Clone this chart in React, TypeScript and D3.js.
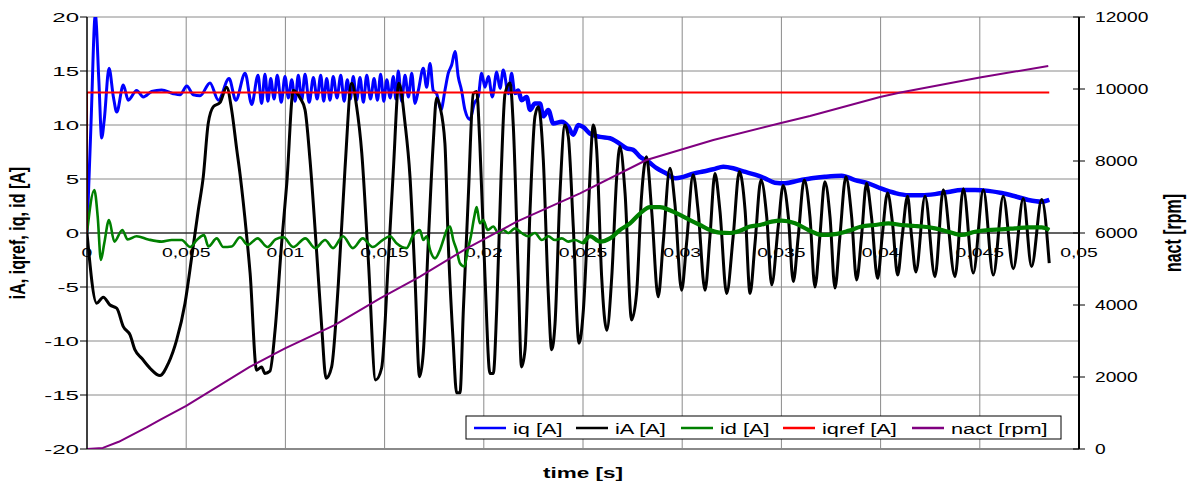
import React from 'react';
import * as d3 from 'd3';

// time in ms, currents in A, speed in rpm
const iqData: [number, number][] = [
  [0, 0], [0.2, 10], [0.42, 20.2], [0.6, 14], [0.74, 8.8], [0.87, 10.5], [1.11, 15.25], [1.33, 12.6], [1.5, 11.2],
  [1.83, 13.7], [2.08, 12.3], [2.5, 13.2], [2.84, 12.6], [3.26, 13.1], [3.76, 13.25], [4.35, 12.9], [4.69, 12.8],
  [5.03, 13.6], [5.36, 12.8], [5.7, 12.7], [6.2, 13.9], [6.62, 12.3], [7.16, 14.3], [7.5, 12.3], [7.97, 14.8], [8.3, 11.9],
  [8.62, 14.6], [8.8, 12.0], [8.97, 14.7], [9.12, 12.2], [9.26, 14.3], [9.43, 12.4], [9.59, 14.6], [9.79, 12.1],
  [9.98, 14.5], [10.15, 12.5], [10.32, 14.2], [10.49, 12.2], [10.65, 14.6], [10.82, 12.3], [10.99, 14.7], [11.2, 12.1],
  [11.41, 14.4], [11.6, 12.4], [11.78, 14.6], [11.93, 12.2], [12.08, 14.3], [12.25, 12.3], [12.41, 14.5], [12.6, 12.5],
  [12.79, 14.6], [12.96, 12.2], [13.12, 14.2], [13.27, 12.4], [13.42, 14.5], [13.59, 12.3], [13.76, 14.4], [13.93, 12.1],
  [14.1, 14.6], [14.29, 12.4], [14.47, 14.3], [14.64, 12.3], [14.8, 14.7], [14.96, 12.2], [15.11, 14.2], [15.28, 12.5],
  [15.44, 14.5], [15.57, 12.4], [15.69, 15.0], [15.86, 12.2], [16.03, 14.6], [16.2, 12.6], [16.37, 14.8], [16.53, 12.0],
  [16.7, 13.2], [16.95, 15.25], [17.12, 13.5], [17.29, 15.7], [17.45, 13.2], [17.62, 12.9], [17.84, 11.4], [18.04, 13.2],
  [18.21, 14.8], [18.38, 15.55], [18.55, 16.8], [18.71, 14.5], [18.88, 13.2], [19.05, 11.4], [19.3, 10.5], [19.52, 12],
  [19.72, 12.6], [19.89, 14.8], [20.06, 13.5], [20.23, 14.5], [20.43, 12.6], [20.65, 14.9], [20.82, 13.4], [20.98, 15.1],
  [21.24, 12.9], [21.4, 14.8], [21.57, 12.9], [21.74, 13.2], [21.9, 12.3], [22.16, 12.6], [22.33, 11.4], [22.58, 12],
  [22.83, 12], [23.0, 10.8], [23.25, 11.4], [23.5, 10.15], [23.93, 10.3], [24.26, 9.85], [24.51, 9.1], [24.76, 10],
  [25.02, 9.8], [25.35, 9.2], [25.86, 8.9], [26.36, 8.77], [26.7, 8.45], [27.2, 7.84], [27.53, 7.7], [27.87, 7.06],
  [28.29, 6.6], [28.71, 6], [29.21, 5.5], [29.64, 5.06], [30.06, 5.2], [30.56, 5.5], [31.06, 5.7], [31.57, 5.9],
  [32.07, 6.14], [32.57, 6], [33.08, 5.7], [33.67, 5.4], [34.17, 5.06], [34.67, 4.66], [35.18, 4.6], [35.85, 4.85],
  [36.52, 5.06], [37.19, 5.2], [38.04, 5.3], [38.71, 4.9], [39.38, 4.6], [40.05, 4.1], [40.73, 3.7], [41.4, 3.5],
  [42.07, 3.5], [42.74, 3.6], [43.41, 3.8], [44.08, 3.98], [44.76, 3.98], [45.43, 3.9], [46.1, 3.7], [46.77, 3.4],
  [47.45, 3.06], [48.12, 2.9], [48.5, 3.06],
];

const iaData: [number, number][] = [
  [0, 0], [0.49, -6.5], [0.82, -5.95], [1.16, -6.67], [1.5, -6.97], [1.83, -8.67], [2.17, -9.44], [2.42, -10.83],
  [2.76, -11.6], [3.18, -12.53], [3.68, -13.2], [4.1, -12.07], [4.52, -9.9], [4.94, -6.5], [5.28, -2.2], [5.61, 2.13],
  [5.86, 5.2], [6.11, 10.15], [6.37, 11.7], [6.7, 12.07], [7.04, 13.5], [7.29, 11.4], [7.55, 7.7], [7.71, 5.5],
  [8.05, -0.3], [8.22, -3.7], [8.55, -12.7], [8.8, -12.4], [8.97, -13], [9.22, -12.8], [9.48, -9], [9.81, -0.95],
  [10.07, 4.6], [10.4, 13.2], [10.74, 12.5], [10.99, 11.4], [11.24, 6.76], [11.58, -1.9], [11.83, -8.7], [12.05, -13.45],
  [12.33, -12.4], [12.67, -4.66], [13.0, 5.83], [13.34, 13.86], [13.59, 11.7], [13.85, 7.4], [14.18, -2.5], [14.55, -13.6],
  [14.85, -12.5], [15.19, -2.5], [15.44, 5.8], [15.72, 13.86], [16.03, 10.15], [16.28, 5.2], [16.53, -4.05], [16.76, -13.3],
  [16.95, -11.1], [17.2, -0.95], [17.45, 8.3], [17.62, 12.5], [17.79, 11.7], [18.04, 8.3], [18.21, -0.95], [18.46, -10.2],
  [18.63, -14.8], [18.8, -14.8], [18.97, -7.1], [19.22, 3.4], [19.47, 12.9], [19.64, 13.1], [19.8, 8.3], [20.06, -4.05],
  [20.31, -13], [20.48, -13], [20.65, -7.1], [20.87, 5.2], [21.07, 12.9], [21.32, 13.9], [21.49, 9.8], [21.74, -4.05],
  [21.9, -12.4], [22.08, -10.8], [22.33, 2.1], [22.58, 10.8], [22.75, 11.7], [23.0, 6.76], [23.25, -5.6], [23.42, -10.8],
  [23.59, -8.4], [23.84, 3.7], [24.09, 10], [24.26, 8.9], [24.51, 0.6], [24.8, -10.2], [25.02, -7.1], [25.27, 2.1],
  [25.52, 10], [25.69, 7.7], [25.94, -4.05], [26.2, -9], [26.45, -4.05], [26.7, 5.2], [26.86, 8], [27.12, 3.7],
  [27.45, -8.05], [27.7, -5.6], [27.95, 3.4], [28.2, 7.06], [28.46, 2.1], [28.79, -5.9], [29.04, -0.95], [29.38, 6],
  [29.63, 2.75], [29.97, -5.3], [30.22, -0.95], [30.55, 5.4], [30.8, 2.1], [31.15, -5.3], [31.4, -0.3], [31.65, 5.5],
  [31.9, 2.1], [32.24, -5.6], [32.57, -0.3], [32.88, 5.7], [33.17, 2.1], [33.42, -5.6], [33.67, -0.95], [33.97, 4.9],
  [34.26, 1.5], [34.51, -4.8], [34.84, 0.6], [35.09, 4.4], [35.35, 1.5], [35.6, -4.5], [35.85, -0.3], [36.15, 4.9],
  [36.44, 1.5], [36.69, -5], [36.94, -0.3], [37.19, 4.75], [37.45, 1.5], [37.7, -5.1], [37.95, -0.3], [38.25, 5.2],
  [38.54, 1.5], [38.79, -4.35], [39.04, -0.3], [39.29, 4.6], [39.54, 1.5], [39.85, -4.2], [40.08, -0.3], [40.35, 3.7],
  [40.6, 0.9], [40.86, -3.9], [41.09, -0.3], [41.36, 3.4], [41.56, -0.3], [41.78, -3.6], [42.24, 3.4], [42.74, -4.05],
  [43.16, 4], [43.75, -4.05], [44.17, 4.1], [44.67, -3.7], [45.18, 4], [45.68, -3.9], [46.18, 3.4], [46.69, -3.3],
  [47.19, 3.2], [47.61, -3.1], [48.12, 3.1], [48.5, -2.8],
];

const idData: [number, number][] = [
  [0, 0], [0.37, 3.98], [0.54, 1.5], [0.7, -2.5], [0.87, -0.95], [1.11, 1.2], [1.38, -0.8], [1.78, 0.28], [2.05, -0.6],
  [2.5, -0.3], [3.09, -0.6], [3.76, -0.8], [4.27, -0.65], [4.77, -0.65], [5.2, -1.3], [5.53, -0.65], [5.9, -0.2],
  [6.12, -1.25], [6.54, -0.5], [6.87, -1.3], [7.29, -1.25], [7.71, -0.4], [8.1, -1.1], [8.6, -0.5], [9.1, -1.3],
  [9.5, -0.6], [9.9, -0.4], [10.4, -1.3], [11.0, -0.5], [11.5, -1.4], [12.0, -0.65], [12.4, -1.4], [12.9, -0.3],
  [13.4, -1.4], [13.9, -0.5], [14.4, -1.3], [14.9, -0.65], [15.27, -0.3], [15.6, -0.95], [16.1, -1.4], [16.45, -0.2],
  [16.78, 0.28], [16.95, -0.65], [17.12, -0.3], [17.29, -1.57], [17.54, -2.35], [17.79, -1.57], [17.96, -0.65],
  [18.13, 0.28], [18.3, 0.6], [18.46, -0.65], [18.63, -1.57], [18.8, -2.8], [19.02, -3.1], [19.19, -1.57], [19.35, -0.3],
  [19.52, 1.5], [19.64, 2.4], [19.8, 0.9], [19.97, 1.2], [20.2, 0.28], [20.48, 0.6], [20.73, 0], [20.98, 0.28],
  [21.24, 0], [21.57, 0.43], [21.91, 0], [22.24, -0.3], [22.58, 0], [22.92, -0.65], [23.25, -0.3], [23.59, -0.65],
  [23.93, -0.5], [24.26, -0.8], [24.6, -0.65], [25.02, -0.95], [25.35, -0.3], [25.86, -0.8], [26.36, -0.5], [26.86, 0.28],
  [27.37, 0.9], [27.87, 1.8], [28.38, 2.4], [28.88, 2.4], [29.38, 2.1], [29.89, 1.67], [30.39, 1.2], [30.9, 0.74],
  [31.4, 0.28], [31.9, 0.03], [32.41, 0], [32.91, 0.2], [33.42, 0.6], [33.92, 0.74], [34.51, 1.05], [35.01, 1.14],
  [35.69, 0.9], [36.36, 0.28], [37.03, -0.18], [37.7, -0.1], [38.37, 0.2], [39.04, 0.6], [39.72, 0.74], [40.39, 0.9],
  [41.06, 0.74], [41.73, 0.65], [42.07, 0.6], [42.74, 0.43], [43.41, 0.12], [44.08, -0.18], [44.76, 0.12], [45.43, 0.28],
  [46.1, 0.34], [46.77, 0.43], [47.45, 0.52], [48.12, 0.52], [48.5, 0.28],
];

const iqrefData: [number, number][] = [[0, 0], [0, 13], [48.5, 13]];

const nactData: [number, number][] = [
  [0, 0], [0.8, 30], [1.6, 200], [3.0, 600], [3.68, 806], [5.0, 1200], [8.2, 2280], [9.98, 2797], [12.5, 3450],
  [14.77, 4186], [16.78, 4786], [19.14, 5575], [21.66, 6314], [24.85, 7103], [28.2, 8028], [31.57, 8583],
  [34.93, 9047], [36.44, 9250], [39.97, 9780], [41.0, 9900], [45.0, 10320], [48.45, 10639],
];

const leftTicks = [-20, -15, -10, -5, 0, 5, 10, 15, 20];
const rightTicks = [0, 2000, 4000, 6000, 8000, 10000, 12000];
const timeTicks = [0, 0.005, 0.01, 0.015, 0.02, 0.025, 0.03, 0.035, 0.04, 0.045, 0.05];

const seriesNames = ['iq [A]', 'iA [A]', 'id [A]', 'iqref [A]', 'nact [rpm]'];
const seriesColors = ['#0000ff', '#000000', '#008000', '#ff0000', '#800080'];

const FONT = '"Liberation Sans", Arial, sans-serif';

// the original picture is stretched sideways, so the text is too
function SText({ x, y, sx, rotate = 0, anchor = 'start', size, bold = false, children }: any) {
  const t = `translate(${x},${y}) scale(${sx},1)` + (rotate ? ` rotate(${rotate})` : '');
  return (
    <text transform={t} textAnchor={anchor} fontSize={size} fontWeight={bold ? 'bold' : 'normal'}
      fontFamily={FONT} fill="#000">{children}</text>
  );
}

export default function App() {
  const x = d3.scaleLinear().domain([0, 0.05]).range([87, 1079]);
  const yL = d3.scaleLinear().domain([-20, 20]).range([449, 17]);
  const yR = d3.scaleLinear().domain([0, 12000]).range([449, 17]);

  const lineL = d3.line<[number, number]>().x(d => x(d[0] / 1000)).y(d => yL(d[1])).curve(d3.curveMonotoneX);
  const lineLin = d3.line<[number, number]>().x(d => x(d[0] / 1000)).y(d => yL(d[1]));
  const lineR = d3.line<[number, number]>().x(d => x(d[0] / 1000)).y(d => yR(d[1]));

  const [x0, x1] = x.range();
  const [yb, yt] = yL.range();

  const legendX = [474, 576, 681, 783, 912];

  return (
    <svg width={1190} height={485} style={{ position: 'absolute', left: 0, top: 0, background: '#fff' }}>
      <defs>
        <clipPath id="plot"><rect x={x0} y={yt} width={x1 - x0} height={yb - yt} /></clipPath>
      </defs>

      {/* grid */}
      {leftTicks.map(v => (
        <line key={'h' + v} x1={x0} x2={x1} y1={yL(v)} y2={yL(v)} stroke="#8a8a8a"
          strokeWidth={v === -20 ? 2 : 1} />
      ))}
      {timeTicks.slice(1, -1).map(t => (
        <line key={'v' + t} x1={x(t)} x2={x(t)} y1={yt} y2={yb} stroke="#8a8a8a" strokeWidth={1} />
      ))}

      {/* x axis through zero */}
      <line x1={x0} x2={x1} y1={yL(0)} y2={yL(0)} stroke="#000" strokeWidth={1} />
      {timeTicks.map((t, i) => (
        <SText key={'xt' + i} x={x(t)} y={yL(0) + 24} sx={1.55} anchor="middle" size={12.5}>
          {String(+t.toFixed(3)).replace('.', ',')}
        </SText>
      ))}

      {/* series */}
      <g clipPath="url(#plot)" fill="none" strokeLinejoin="round">
        <path d={lineL(iqData) || ''} stroke={seriesColors[0]} strokeWidth={3} />
        <path d={lineL(iqData.filter(d => d[0] >= 21.5)) || ''} stroke={seriesColors[0]} strokeWidth={4.5} />
        <path d={lineL(iaData) || ''} stroke={seriesColors[1]} strokeWidth={3} />
        <path d={lineL(idData) || ''} stroke={seriesColors[2]} strokeWidth={2.6} />
        <path d={lineL(idData.filter(d => d[0] >= 25)) || ''} stroke={seriesColors[2]} strokeWidth={4.2} />
        <path d={lineLin(iqrefData) || ''} stroke={seriesColors[3]} strokeWidth={2} />
        <path d={lineR(nactData) || ''} stroke={seriesColors[4]} strokeWidth={2} />
      </g>

      {/* left axis */}
      <line x1={x0} x2={x0} y1={yt} y2={yb} stroke="#000" strokeWidth={1.5} />
      {leftTicks.map(v => (
        <g key={'lt' + v}>
          <line x1={x0 - 7} x2={x0} y1={yL(v)} y2={yL(v)} stroke="#000" strokeWidth={1} />
          <SText x={79} y={yL(v) + 4.7} sx={1.85} anchor="end" size={13}>{v}</SText>
        </g>
      ))}

      {/* right axis */}
      <line x1={x1} x2={x1} y1={yt} y2={yb} stroke="#000" strokeWidth={2} />
      {rightTicks.map(v => (
        <g key={'rt' + v}>
          <line x1={x1 - 6} x2={x1 + 6} y1={yR(v)} y2={yR(v)} stroke="#000" strokeWidth={1} />
          <SText x={1095} y={yR(v) + 5} sx={1.37} size={14}>{v}</SText>
        </g>
      ))}

      {/* axis titles */}
      <SText x={25} y={233} sx={1.35} rotate={-90} anchor="middle" size={16} bold>iA, iqref, iq, id [A]</SText>
      <SText x={1181} y={233} sx={1.5} rotate={-90} anchor="middle" size={16} bold>nact [rpm]</SText>
      <SText x={583} y={478} sx={1.5} anchor="middle" size={15} bold>time [s]</SText>

      {/* legend */}
      <rect x={466} y={416} width={595} height={23} fill="#fff" stroke="#000" strokeWidth={1} />
      {seriesNames.map((name, i) => (
        <g key={name}>
          <line x1={legendX[i]} x2={legendX[i] + 32} y1={428} y2={428} stroke={seriesColors[i]} strokeWidth={2.5} />
          <SText x={legendX[i] + 39} y={434} sx={1.45} size={15}>{name}</SText>
        </g>
      ))}
    </svg>
  );
}
